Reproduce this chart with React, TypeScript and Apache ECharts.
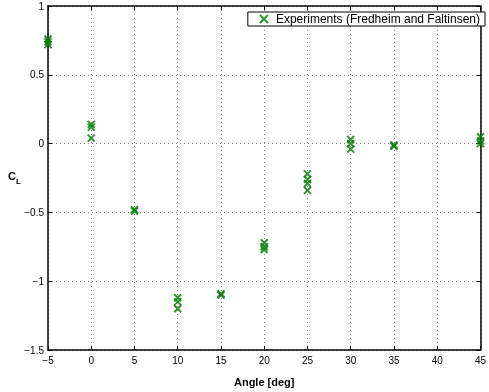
import React, { useEffect, useRef } from "react";
import * as echarts from "echarts";

const angles = [-5, -5, -5, 0, 0, 0, 5, 5, 10, 10, 10, 15, 15, 20, 20, 20, 25, 25, 25, 25, 30, 30, 30, 35, 35, 45, 45, 45];
const clValues = [0.76, 0.74, 0.72, 0.14, 0.12, 0.04, -0.48, -0.49, -1.12, -1.15, -1.2, -1.09, -1.1, -0.72, -0.75, -0.77, -0.22, -0.26, -0.29, -0.34, 0.03, 0.0, -0.04, -0.01, -0.02, 0.05, 0.02, 0.0];
const seriesName = "Experiments (Fredheim and Faltinsen)";
const xTitle = "Angle [deg]";

const FONT = "Liberation Sans, Arial, Helvetica, sans-serif";
const minus = (v: number) => String(v).replace("-", "\u2212");

export default function App() {
  const ref = useRef<HTMLDivElement>(null);
  useEffect(() => {
    if (!ref.current) return;
    const chart = echarts.init(ref.current, null, { renderer: "svg" });
    const axisCommon = {
      axisLine: { show: true, onZero: false, lineStyle: { color: "#000", width: 1.5 } },
      axisTick: { show: true, inside: true, length: 4, lineStyle: { color: "#000", width: 1 } },
    };
    chart.setOption({
      animation: false,
      textStyle: { fontFamily: FONT },
      grid: { left: 48, right: 3, top: 6, bottom: 40, containLabel: false },
      legend: {
        right: 4,
        top: 12,
        padding: [1, 5, 1, 11],
        borderColor: "#000",
        borderWidth: 1,
        borderRadius: 0,
        backgroundColor: "#fff",
        itemWidth: 8,
        itemHeight: 8,
        itemGap: 6,
        itemStyle: { borderWidth: 2.2 },
        textStyle: { fontSize: 12, color: "#000", fontFamily: FONT, padding: [0, 0, 0, 3] },
        data: [seriesName],
      },
      xAxis: [
        {
          ...axisCommon,
          type: "value",
          min: -5,
          max: 45,
          interval: 5,
          position: "bottom",
          name: xTitle,
          nameLocation: "middle",
          nameGap: 26,
          nameTextStyle: { fontSize: 11, fontWeight: "bold", color: "#000", fontFamily: FONT },
          axisLabel: { fontSize: 10, color: "#000", margin: 5, formatter: minus },
          splitLine: { show: true, lineStyle: { type: [1, 3], color: "#888", width: 1 } },
        },
        {
          ...axisCommon,
          type: "value",
          min: -5,
          max: 45,
          interval: 5,
          position: "top",
          axisLabel: { show: false },
          splitLine: { show: false },
        },
      ],
      yAxis: [
        {
          ...axisCommon,
          type: "value",
          min: -1.5,
          max: 1,
          interval: 0.5,
          position: "left",
          axisLabel: { fontSize: 10, color: "#000", margin: 4, formatter: minus },
          splitLine: { show: true, lineStyle: { type: [1, 3], color: "#888", width: 1 } },
        },
        {
          ...axisCommon,
          type: "value",
          min: -1.5,
          max: 1,
          interval: 0.5,
          position: "right",
          axisLabel: { show: false },
          splitLine: { show: false },
        },
      ],
      graphic: [
        {
          type: "text",
          left: 8,
          top: 170,
          style: { text: "C", font: "bold 11px " + FONT, fill: "#000" },
        },
        {
          type: "text",
          left: 16,
          top: 177,
          style: { text: "L", font: "bold 8px " + FONT, fill: "#000" },
        },
      ],
      series: [
        {
          name: seriesName,
          type: "scatter",
          xAxisIndex: 0,
          yAxisIndex: 0,
          symbol: "path://M0,0L10,10M10,0L0,10",
          symbolSize: 7,
          itemStyle: { color: "rgba(0,0,0,0)", borderColor: "#007a00", borderWidth: 2 },
          data: angles.map((a, i) => [a, clValues[i]]),
          clip: false,
        },
      ],
    });
    return () => chart.dispose();
  }, []);
  return <div ref={ref} style={{ position: "fixed", left: 0, top: 0, width: 489, height: 392 }} />;
}
